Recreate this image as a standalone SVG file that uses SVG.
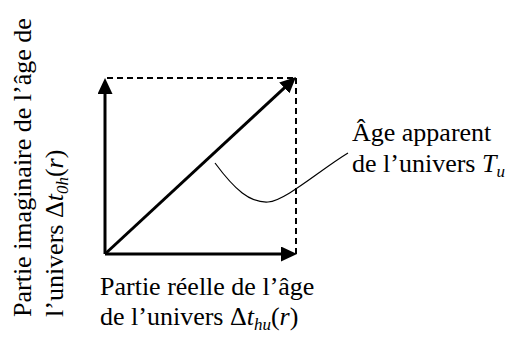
<svg xmlns="http://www.w3.org/2000/svg" width="511" height="339" viewBox="0 0 511 339">
<style>
text{font-family:"Liberation Serif","Times New Roman",serif;font-size:26px;fill:#000}
.i{font-style:italic}
.sub{font-style:italic;font-size:17px}
.axis{stroke:#000;stroke-width:3;fill:none}
.dash{stroke:#000;stroke-width:2;stroke-dasharray:6 4;fill:none}
.thin{stroke:#000;stroke-width:1.2;fill:none}
</style>
<defs>
<marker id="ah" markerUnits="userSpaceOnUse" markerWidth="16" markerHeight="15" refX="6" refY="7.5" orient="auto" viewBox="0 0 16 15">
<path d="M0,0 L16,7.5 L0,15 z" fill="#000"/>
</marker>
</defs>
<g id="connectors">
<line class="dash" x1="107" y1="78" x2="296" y2="78"/>
<line class="dash" x1="296" y1="78" x2="296" y2="254"/>
<line class="axis" x1="105" y1="254" x2="105" y2="88" marker-end="url(#ah)"/>
<line class="axis" x1="105" y1="254" x2="287" y2="254" marker-end="url(#ah)"/>
<line class="axis" x1="105" y1="254" x2="288.7" y2="83.8" marker-end="url(#ah)"/>
<path class="thin" d="M215,163 C235,190 250,203 268,202 C285,201 320,170 348,153"/>
</g>
<g id="label-imaginary">
<text transform="rotate(-90)" x="-317" y="31">Partie imaginaire de l’âge de</text>
<text transform="rotate(-90)" x="-317" y="63">l’univers Δ<tspan class="i">t</tspan><tspan class="sub" dy="5">0h</tspan><tspan dy="-5">(</tspan><tspan class="i">r</tspan>)</text>
</g>
<g id="label-real">
<text x="100" y="295">Partie réelle de l’âge</text>
<text x="100" y="325">de l’univers Δ<tspan class="i">t</tspan><tspan class="sub" dy="5">hu</tspan><tspan dy="-5">(</tspan><tspan class="i">r</tspan>)</text>
</g>
<g id="label-apparent">
<text x="352" y="141">Âge apparent</text>
<text x="352" y="172">de l’univers <tspan class="i">T</tspan><tspan class="sub" dy="5">u</tspan></text>
</g>
</svg>
